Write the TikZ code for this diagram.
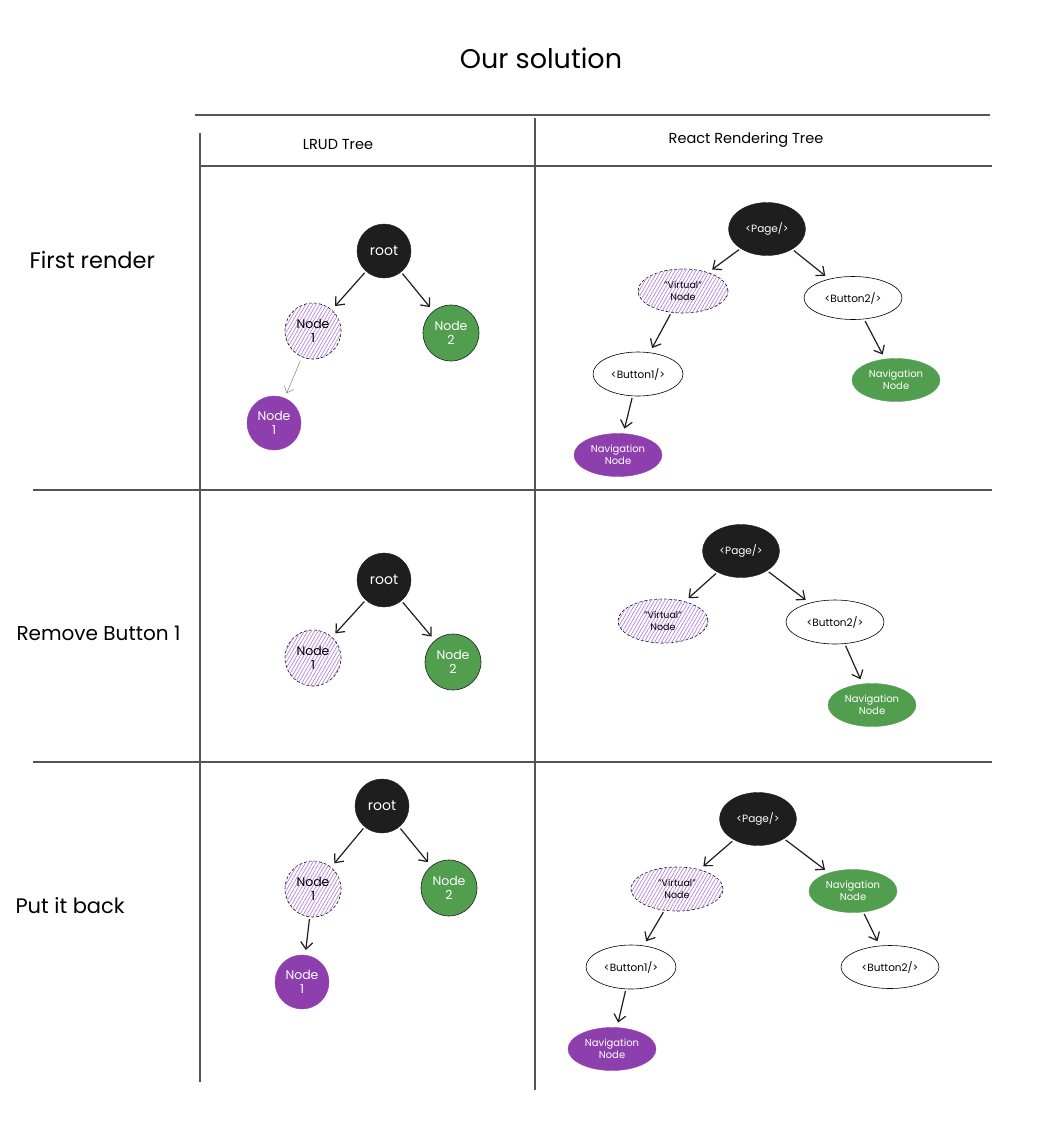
\documentclass[tikz,border=0pt]{standalone}
\usepackage{fontspec}
\setmainfont{Poppins}
\usetikzlibrary{shapes.geometric,arrows.meta,patterns.meta}
\definecolor{nodeblack}{HTML}{1E1E1E}
\definecolor{nodegreen}{HTML}{529E4F}
\definecolor{nodepurple}{HTML}{8E3FAE}
\definecolor{hatchcol}{HTML}{B784DC}
\definecolor{gridcol}{HTML}{555555}
\tikzset{
  grid/.style={draw=gridcol,line width=1.2pt},
  rootc/.style={circle,fill=nodeblack,draw=nodeblack,minimum size=54,inner sep=0,text=white,font=\fontsize{14}{16}\selectfont},
  hatchc/.style={circle,draw=black,line width=0.6pt,dash pattern=on 3pt off 2pt,fill=white,
     postaction={pattern={Lines[angle=60,distance=3pt,line width=0.7pt]},pattern color=hatchcol},
     minimum size=56,inner sep=0,align=center,font=\fontsize{12.5}{14.5}\selectfont},
  greenc/.style={circle,fill=nodegreen,draw=nodeblack,line width=0.6pt,minimum size=56,inner sep=0,text=white,align=center,font=\fontsize{12.5}{14.5}\selectfont},
  purplec/.style={circle,fill=nodepurple,draw=nodepurple,minimum size=54,inner sep=0,text=white,align=center,font=\fontsize{12.5}{14.5}\selectfont},
  pageell/.style={ellipse,fill=nodeblack,draw=nodeblack,minimum width=77,minimum height=53,inner sep=0,text=white,font=\fontsize{10.5}{12.5}\selectfont},
  virtell/.style={ellipse,draw=black,line width=0.6pt,dash pattern=on 3pt off 2pt,fill=white,
     postaction={pattern={Lines[angle=60,distance=3pt,line width=0.7pt]},pattern color=hatchcol},
     minimum width=90,minimum height=44,inner sep=0,align=center,font=\fontsize{9.5}{12}\selectfont},
  btnell/.style={ellipse,draw=black,line width=0.6pt,fill=white,minimum width=94,minimum height=44,inner sep=0,font=\fontsize{10.5}{12.5}\selectfont},
  navg/.style={ellipse,fill=nodegreen,draw=nodegreen,minimum width=88,minimum height=43,inner sep=0,text=white,align=center,font=\fontsize{10}{12}\selectfont},
  navp/.style={ellipse,fill=nodepurple,draw=nodepurple,minimum width=88,minimum height=43,inner sep=0,text=white,align=center,font=\fontsize{10}{12}\selectfont},
  arr/.style={-{Straight Barb[length=7pt,width=12pt]},line width=1.2pt,draw=nodeblack,shorten >=5pt,shorten <=2pt},
  thinarr/.style={-{Straight Barb[length=6pt,width=10pt]},line width=0.5pt,draw=gray,shorten >=5pt,shorten <=4pt},
  rowlabel/.style={font=\fontsize{21}{24}\selectfont,anchor=west},
  header/.style={font=\fontsize{14.5}{16}\selectfont}
}
\begin{document}
\begin{tikzpicture}[x=1pt,y=-1pt]
\useasboundingbox[fill=white] (0,0) rectangle (1042,1122);
% title
\node[font=\fontsize{27}{30}\selectfont] (title) at (541,58) {Our solution};
% table
\draw[grid] (195,115) -- (990,115);
\draw[grid] (200,133) -- (200,1082);
\draw[grid] (535,118) -- (535,1090);
\draw[grid] (200,166) -- (992,166);
\draw[grid] (33,490) -- (992,490);
\draw[grid] (33,762) -- (992,762);
% headers
\node[header] (h1) at (338,145) {LRUD Tree};
\node[header] (h2) at (746,140) {React Rendering Tree};
% row labels
\node[rowlabel,font=\fontsize{22.5}{25}\selectfont] (r1) at (26,260) {First render};
\node[rowlabel,font=\fontsize{20}{23}\selectfont] (r2) at (13,633) {Remove Button 1};
\node[rowlabel] (r3) at (12,906) {Put it back};

% ===== Row 1 LRUD
\node[rootc] (a1root) at (384,251) {root};
\node[hatchc] (a1n1) at (313,331) {Node\\1};
\node[greenc] (a1n2) at (451,333) {Node\\2};
\node[purplec] (a1p1) at (274,423) {Node\\1};
\draw[arr] (a1root) -- (a1n1);
\draw[arr] (a1root) -- (a1n2);
\draw[thinarr] (a1n1) -- (a1p1);

% ===== Row 1 React
\node[pageell] (b1page) at (767,229) {\textless Page/\textgreater};
\node[virtell] (b1virt) at (683,291) {"Virtual"\\Node};
\node[btnell,minimum width=98,minimum height=43] (b1btn2) at (853,298) {\textless Button2/\textgreater};
\node[btnell,minimum width=90] (b1btn1) at (638,374) {\textless Button1/\textgreater};
\node[navp] (b1navp) at (618,455) {Navigation\\Node};
\node[navg] (b1navg) at (896,380) {Navigation\\Node};
\draw[arr] (b1page) -- (b1virt);
\draw[arr] (b1page) -- (b1btn2);
\draw[arr] (b1virt) -- (b1btn1);
\draw[arr] (b1btn2) -- (b1navg);
\draw[arr] (b1btn1) -- (b1navp);

% ===== Row 2 LRUD
\node[rootc] (a2root) at (384,580) {root};
\node[hatchc] (a2n1) at (313,658) {Node\\1};
\node[greenc] (a2n2) at (453,662) {Node\\2};
\draw[arr] (a2root) -- (a2n1);
\draw[arr] (a2root) -- (a2n2);

% ===== Row 2 React
\node[pageell] (b2page) at (741,551) {\textless Page/\textgreater};
\node[virtell] (b2virt) at (663,621) {"Virtual"\\Node};
\node[btnell,minimum width=98] (b2btn2) at (835,622) {\textless Button2/\textgreater};
\node[navg] (b2navg) at (872,705) {Navigation\\Node};
\draw[arr] (b2page) -- (b2virt);
\draw[arr] (b2page) -- (b2btn2);
\draw[arr] (b2btn2) -- (b2navg);

% ===== Row 3 LRUD
\node[rootc] (a3root) at (382,806) {root};
\node[hatchc] (a3n1) at (313,889) {Node\\1};
\node[greenc] (a3n2) at (449,888) {Node\\2};
\node[purplec] (a3p1) at (302,982) {Node\\1};
\draw[arr] (a3root) -- (a3n1);
\draw[arr] (a3root) -- (a3n2);
\draw[arr] (a3n1) -- (a3p1);

% ===== Row 3 React
\node[pageell] (b3page) at (758,819) {\textless Page/\textgreater};
\node[virtell,minimum width=92] (b3virt) at (677,889) {"Virtual"\\Node};
\node[navg] (b3navg) at (853,891) {Navigation\\Node};
\node[btnell,minimum width=90] (b3btn1) at (631,967) {\textless Button1/\textgreater};
\node[btnell,minimum width=98,minimum height=43] (b3btn2) at (890,967) {\textless Button2/\textgreater};
\node[navp] (b3navp) at (612,1049) {Navigation\\Node};
\draw[arr] (b3page) -- (b3virt);
\draw[arr] (b3page) -- (b3navg);
\draw[arr] (b3virt) -- (b3btn1);
\draw[arr] (b3navg) -- (b3btn2);
\draw[arr] (b3btn1) -- (b3navp);
\end{tikzpicture}
\end{document}
